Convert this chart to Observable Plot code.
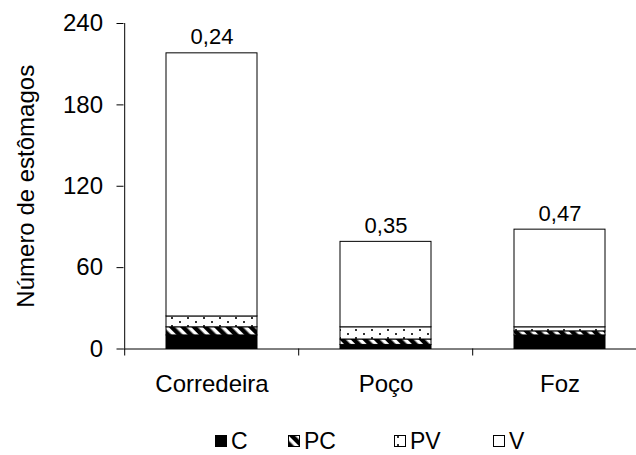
<!DOCTYPE html>
<html>
<head>
<meta charset="utf-8">
<script src="https://cdn.jsdelivr.net/npm/d3@7"></script>
<script src="https://cdn.jsdelivr.net/npm/@observablehq/plot@0.6"></script>
<style>
  html, body { margin: 0; padding: 0; background: #fff; }
  body { width: 636px; height: 455px; overflow: hidden; font-family: "Liberation Sans", Arial, sans-serif; }
  #legend { position: relative; height: 40px; font-size: 23px; color: #000; }
  .item { position: absolute; top: 14px; display: flex; align-items: center; line-height: 24px; }
  .item svg { margin-right: 4px; }
</style>
</head>
<body>
<div id="chart"></div>
<div id="legend"></div>
<script>
const categories = ["Corredeira", "Poço", "Foz"];
const series = ["C", "PC", "PV", "V"];
const C  = [10, 3, 10];
const PC = [6, 4, 3];
const PV = [8, 9, 3];
const V  = [194, 63, 72];
const topLabels = ["0,24", "0,35", "0,47"];
const yTicks = [0, 60, 120, 180, 240];
const yTitle = "Número de estômagos";

const values = {C, PC, PV, V};
const rows = [];
categories.forEach((cat, i) => series.forEach(s => rows.push({category: cat, series: s, value: values[s][i]})));
const totals = categories.map((cat, i) => ({category: cat, total: d3.sum(series, s => values[s][i]), label: topLabels[i]}));

const fills = ["black", "url(#pat-pc)", "url(#pat-pv)", "white"];

const W = 636, H = 415;
const chart = Plot.plot({
  width: W,
  height: H,
  marginLeft: 123.5,
  marginRight: 0,
  marginTop: 23,
  marginBottom: 66.5,
  style: {fontFamily: "'Liberation Sans', Arial, sans-serif", fontSize: "24px", color: "#000", background: "#fff"},
  x: {domain: categories, range: [123.5, 647.5], paddingInner: 0.476, paddingOuter: 0.238, axis: null},
  y: {domain: [0, 240], axis: null},
  color: {type: "ordinal", domain: series, range: fills},
  marks: [
    Plot.barY(rows, {x: "category", y: "value", fill: "series", stroke: "black", strokeWidth: 1}),
    Plot.ruleY([0], {stroke: "black", strokeWidth: 1}),
    Plot.ruleX([categories[0]], {x: d => d, y1: 0, y2: 240, dx: -87.3, stroke: "black", strokeWidth: 1}),
    Plot.axisY({ticks: yTicks, tickSize: 7, tickPadding: 14, fontSize: 24, label: yTitle, labelAnchor: "center", labelOffset: 107, labelArrow: "none"}),
    Plot.axisX({tickSize: 0, tickPadding: 26, fontSize: 24, label: null}),
    Plot.axisX({tickSize: 7, tickFormat: () => "", dx: -87.3, label: null}),
    Plot.text(totals, {x: "category", y: "total", text: "label", dy: -9, lineAnchor: "bottom", fontSize: 22})
  ]
});
document.getElementById("chart").appendChild(chart);

// patterns
function addDefs(svgNode) {
  const defs = d3.select(svgNode).insert("defs", ":first-child");
  const pc = defs.append("pattern").attr("id", "pat-pc").attr("patternUnits", "userSpaceOnUse")
    .attr("width", 8).attr("height", 8).attr("patternTransform", "rotate(-45)");
  pc.append("rect").attr("width", 8).attr("height", 8).attr("fill", "white");
  pc.append("rect").attr("width", 4.5).attr("height", 8).attr("fill", "black");
  const pv = defs.append("pattern").attr("id", "pat-pv").attr("patternUnits", "userSpaceOnUse")
    .attr("width", 16).attr("height", 8);
  pv.append("rect").attr("width", 16).attr("height", 8).attr("fill", "white");
  pv.append("rect").attr("x", 3).attr("y", 1).attr("width", 2).attr("height", 2).attr("fill", "#333");
  pv.append("rect").attr("x", 11).attr("y", 5).attr("width", 2).attr("height", 2).attr("fill", "#333");
}
addDefs(chart);

// legend
const legendX = [215, 288, 394, 493];
const leg = d3.select("#legend");
series.forEach((s, i) => {
  const item = leg.append("div").attr("class", "item").style("left", legendX[i] + "px");
  const sw = item.append("svg").attr("width", 12).attr("height", 12);
  sw.append("rect").attr("x", 0.5).attr("y", 0.5).attr("width", 11).attr("height", 11)
    .attr("fill", fills[i]).attr("stroke", "black").attr("stroke-width", 1);
  item.append("span").text(s);
});
</script>
</body>
</html>
